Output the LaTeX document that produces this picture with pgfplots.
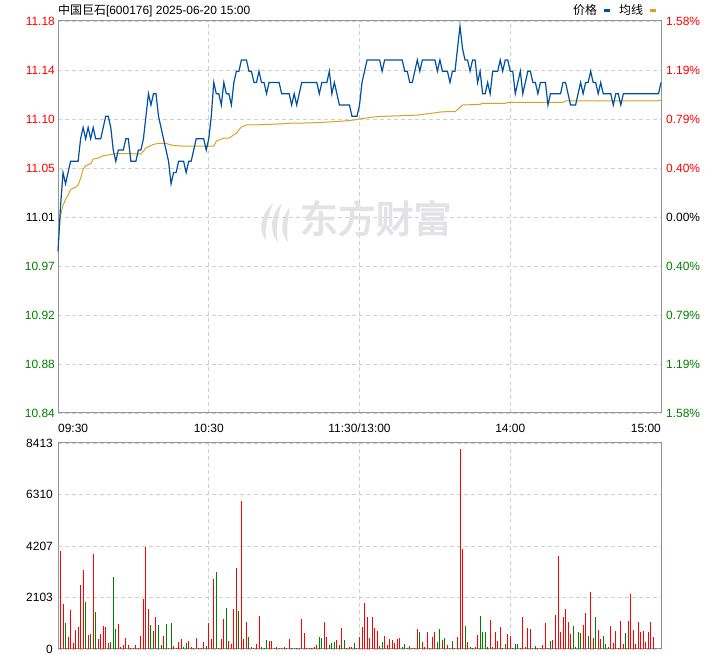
\documentclass[border=0pt]{standalone}
\usepackage{fontspec}
\setmainfont{Liberation Sans}
\newfontfamily\cjk{Noto Sans CJK SC}
\newfontfamily\cjkb[FakeBold=3]{Noto Sans CJK SC}
\usepackage{pgfplots}
\pgfplotsset{compat=1.18}
\definecolor{pblue}{RGB}{0,80,160}
\definecolor{porange}{RGB}{218,162,32}
\definecolor{ured}{RGB}{255,0,0}
\definecolor{dgreen}{RGB}{0,128,0}
\definecolor{gridc}{RGB}{208,208,208}
\definecolor{borderc}{RGB}{150,150,150}
\definecolor{wm}{RGB}{226,226,231}
\newcommand{\fs}{\fontsize{12}{14}\selectfont}
\begin{document}
\begin{tikzpicture}[x=1bp,y=1bp]
\useasboundingbox (0,0) rectangle (720,655);
% title and legend
\node[anchor=base west, inner sep=0pt] at (58,640) {\fs{\cjk 中国巨石}[600176] 2025-06-20 15:00};
\node[anchor=base west, inner sep=0pt] at (573,640) {\fs\cjk 价格};
\fill[pblue] (604,643) rectangle (610,646);
\node[anchor=base west, inner sep=0pt] at (619,640) {\fs\cjk 均线};
\fill[porange] (650,643) rectangle (656,646);
% watermark logo
\begin{scope}[xshift=-10bp]
\fill[wm] (283,452) .. controls (270,440) and (268,425) .. (276,414) .. controls (274,426) and (278,438) .. (283,452) -- cycle;
\fill[wm] (292,452) .. controls (280,440) and (279,424) .. (288,412) .. controls (285,426) and (288,440) .. (292,452) -- cycle;
\fill[wm] (300,448) .. controls (290,436) and (290,422) .. (298,413) .. controls (296,424) and (298,437) .. (300,448) -- cycle;
\end{scope}
% price panel
\begin{axis}[at={(58bp,242bp)}, anchor=south west, scale only axis,
  width=603bp, height=392bp,
  xmin=0, xmax=240, ymin=10.8366, ymax=11.1846,
  axis line style={borderc, line width=1bp},
  xtick={60,120,180}, xticklabels={},
  ytick={10.8366,10.8801,10.9236,10.9671,11.0106,11.0541,11.0976,11.1411,11.1846},
  yticklabels={\textcolor{dgreen}{10.84},\textcolor{dgreen}{10.88},\textcolor{dgreen}{10.92},\textcolor{dgreen}{10.97},11.01,\textcolor{ured}{11.05},\textcolor{ured}{11.10},\textcolor{ured}{11.14},\textcolor{ured}{11.18}},
  yticklabel style={font=\fs, inner sep=0pt, xshift=-3bp},
  grid=major, grid style={gridc, dash pattern=on 4bp off 3bp, line width=0.8bp},
  tick style={draw=none}, clip=false]
\node[text=wm, font=\cjkb\fontsize{38}{40}\selectfont, inner sep=0pt] at (axis cs:126.5,11.0095) {东方财富};
\addplot[porange, line width=1bp, mark=none] coordinates {
(0,10.989)(1,11.012)(2,11.021)(3,11.026)(4,11.030)(5,11.035)(7,11.037)(8,11.039)(9,11.045)(10,11.053)(11,11.056)(13,11.058)(14,11.062)(16,11.063)(18,11.065)(21,11.066)(23,11.067)(33,11.0666)(34,11.069)(35,11.072)(37,11.074)(38,11.075)(40,11.076)(43,11.076)(44,11.0752)(46,11.074)(50,11.0735)(62,11.0735)(63,11.078)(64,11.079)(66,11.0805)(68,11.0805)(69,11.082)(70,11.0835)(71,11.085)(72,11.088)(73,11.0905)(75,11.0923)(80,11.0925)(88,11.0932)(92,11.0938)(100,11.0941)(106,11.0947)(112,11.0955)(118,11.0967)(121,11.098)(123,11.0985)(126,11.0995)(130,11.1)(134,11.1003)(140,11.1008)(143,11.101)(148,11.1025)(153,11.104)(158,11.1041)(159,11.106)(160,11.108)(161,11.110)(168,11.1106)(169,11.1115)(178,11.1115)(179,11.1124)(201,11.1124)(202,11.1136)(238,11.1136)(240,11.1142)};
\addplot[pblue, line width=1.2bp, mark=none] coordinates {
(0,10.98)(1,11.02)(2,11.05)(3,11.04)(4,11.05)(5,11.06)(6,11.06)(7,11.06)(8,11.06)(9,11.08)(10,11.09)(11,11.08)(12,11.09)(13,11.08)(14,11.09)(15,11.08)(16,11.08)(17,11.08)(18,11.09)(19,11.10)(20,11.10)(21,11.09)(22,11.07)(23,11.06)(24,11.07)(25,11.07)(26,11.07)(27,11.08)(28,11.08)(29,11.06)(30,11.06)(31,11.06)(32,11.07)(33,11.07)(34,11.08)(35,11.10)(36,11.12)(37,11.11)(38,11.12)(39,11.12)(40,11.10)(41,11.09)(42,11.08)(43,11.07)(44,11.06)(45,11.04)(46,11.05)(47,11.05)(48,11.06)(49,11.06)(50,11.06)(51,11.05)(52,11.06)(53,11.06)(54,11.07)(55,11.08)(56,11.08)(57,11.08)(58,11.08)(59,11.07)(60,11.08)(61,11.10)(62,11.13)(63,11.12)(64,11.12)(65,11.11)(66,11.13)(67,11.12)(68,11.12)(69,11.11)(70,11.13)(71,11.14)(72,11.14)(73,11.15)(74,11.15)(75,11.15)(76,11.14)(77,11.14)(78,11.13)(79,11.13)(80,11.14)(81,11.13)(82,11.13)(83,11.12)(84,11.13)(85,11.13)(86,11.13)(87,11.13)(88,11.13)(89,11.12)(90,11.12)(91,11.12)(92,11.12)(93,11.11)(94,11.12)(95,11.11)(96,11.12)(97,11.13)(98,11.13)(99,11.13)(100,11.13)(101,11.13)(102,11.13)(103,11.13)(104,11.12)(105,11.13)(106,11.13)(107,11.13)(108,11.14)(109,11.12)(110,11.13)(111,11.12)(112,11.11)(113,11.11)(114,11.11)(115,11.11)(116,11.11)(117,11.10)(118,11.10)(119,11.10)(120,11.11)(121,11.13)(122,11.14)(123,11.15)(124,11.15)(125,11.15)(126,11.15)(127,11.15)(128,11.15)(129,11.14)(130,11.15)(131,11.15)(132,11.15)(133,11.15)(134,11.15)(135,11.15)(136,11.15)(137,11.15)(138,11.14)(139,11.14)(140,11.13)(141,11.13)(142,11.14)(143,11.15)(144,11.14)(145,11.15)(146,11.15)(147,11.15)(148,11.15)(149,11.15)(150,11.15)(151,11.14)(152,11.15)(153,11.14)(154,11.14)(155,11.14)(156,11.13)(157,11.14)(158,11.14)(159,11.16)(160,11.18)(161,11.16)(162,11.15)(163,11.15)(164,11.14)(165,11.15)(166,11.15)(167,11.13)(168,11.14)(169,11.12)(170,11.12)(171,11.13)(172,11.12)(173,11.14)(174,11.14)(175,11.14)(176,11.15)(177,11.14)(178,11.15)(179,11.15)(180,11.14)(181,11.14)(182,11.12)(183,11.13)(184,11.14)(185,11.12)(186,11.13)(187,11.14)(188,11.14)(189,11.13)(190,11.13)(191,11.12)(192,11.13)(193,11.13)(194,11.13)(195,11.11)(196,11.12)(197,11.12)(198,11.12)(199,11.12)(200,11.12)(201,11.13)(202,11.13)(203,11.12)(204,11.11)(205,11.11)(206,11.11)(207,11.12)(208,11.13)(209,11.12)(210,11.13)(211,11.13)(212,11.14)(213,11.13)(214,11.13)(215,11.12)(216,11.13)(217,11.12)(218,11.12)(219,11.12)(220,11.12)(221,11.11)(222,11.12)(223,11.12)(224,11.11)(225,11.12)(226,11.12)(227,11.12)(228,11.12)(229,11.12)(230,11.12)(231,11.12)(232,11.12)(233,11.12)(234,11.12)(235,11.12)(236,11.12)(237,11.12)(238,11.12)(239,11.12)(240,11.13)};
% right-hand percentage labels
\foreach \yy/\lab/\col in {11.1846/1.58\%/ured, 11.1411/1.19\%/ured, 11.0976/0.79\%/ured, 11.0541/0.40\%/ured, 11.0106/0.00\%/black, 10.9671/0.40\%/dgreen, 10.9236/0.79\%/dgreen, 10.8801/1.19\%/dgreen, 10.8366/1.58\%/dgreen}{
  \edef\tmp{\noexpand\node[anchor=west, inner sep=0pt, text=\col, font=\noexpand\fs] at (axis cs:240,\yy) [xshift=5bp] {\lab};}\tmp
}
\end{axis}
% time labels
\node[anchor=west, inner sep=0pt, font=\fs] at (58,227) {09:30};
\node[inner sep=0pt, font=\fs] at (208.75,227) {10:30};
\node[inner sep=0pt, font=\fs] at (359.5,227) {11:30/13:00};
\node[inner sep=0pt, font=\fs] at (510.25,227) {14:00};
\node[anchor=east, inner sep=0pt, font=\fs] at (661,227) {15:00};
% volume panel
\begin{axis}[at={(58bp,6bp)}, anchor=south west, scale only axis,
  width=603bp, height=206bp,
  xmin=0, xmax=240, ymin=0, ymax=8413,
  axis line style={borderc, line width=1bp},
  xtick={60,120,180}, xticklabels={},
  ytick={0,2103,4207,6310,8413},
  yticklabels={0,2103,4207,6310,8413},
  yticklabel style={font=\fs, inner sep=0pt, xshift=-5bp},
  grid=major, grid style={gridc, dash pattern=on 4bp off 3bp, line width=0.8bp},
  tick style={draw=none}]
\addplot[ycomb, ured, line width=1bp, mark=none] coordinates {
(1,4009)(2,1841)(4,491)(5,1595)(6,260)(7,777)(8,900)(9,2618)(10,3232)(12,586)(14,3872)(16,410)(17,614)(18,940)(19,900)(20,260)(24,1023)(25,82)(26,150)(27,450)(28,177)(29,40)(30,40)(31,150)(32,55)(33,532)(34,2045)(35,4172)(36,1636)(39,1309)(42,532)(44,40)(46,136)(47,40)(48,300)(49,410)(52,327)(53,95)(54,40)(55,450)(56,40)(57,40)(58,300)(60,1064)(61,423)(62,2863)(65,410)(66,1227)(68,327)(69,218)(70,1636)(71,3313)(73,6054)(74,410)(75,1104)(77,82)(79,205)(80,1350)(84,327)(85,327)(86,40)(87,82)(88,40)(89,40)(91,40)(92,410)(97,1227)(98,654)(99,40)(100,40)(101,40)(102,68)(103,164)(106,1104)(107,491)(111,368)(113,859)(115,40)(116,82)(117,82)(119,40)(120,491)(121,900)(122,1882)(123,1309)(124,450)(125,1309)(126,859)(127,736)(128,123)(130,532)(131,164)(132,410)(133,368)(134,245)(135,410)(136,450)(139,40)(140,123)(143,818)(145,286)(146,82)(147,695)(148,40)(149,491)(150,695)(153,368)(155,164)(156,40)(158,40)(159,491)(160,8181)(161,4091)(163,286)(166,82)(167,573)(171,82)(172,1186)(174,695)(175,327)(176,900)(177,40)(179,614)(180,532)(181,40)(184,40)(185,1309)(187,859)(188,818)(189,40)(191,40)(192,40)(193,164)(194,1064)(195,40)(197,368)(198,1391)(199,3804)(200,695)(201,1309)(202,1636)(203,1104)(204,614)(209,982)(210,1473)(212,2332)(213,450)(215,777)(216,410)(220,940)(221,245)(222,736)(223,40)(224,1145)(225,205)(227,1145)(228,2250)(229,777)(230,205)(231,1104)(232,695)(233,736)(234,286)(235,695)(236,1104)(237,491)(240,4377)};
\addplot[ycomb, dgreen, line width=1bp, mark=none] coordinates {
(3,1064)(11,1923)(13,614)(15,1513)(21,272)(22,2945)(23,818)(37,982)(38,723)(40,982)(41,177)(43,1023)(45,1064)(50,68)(51,232)(59,123)(63,3150)(64,40)(67,1677)(72,1554)(76,491)(78,40)(81,82)(82,40)(83,368)(90,82)(93,40)(94,40)(95,40)(96,40)(104,491)(105,450)(108,177)(109,260)(110,286)(112,177)(114,368)(118,245)(129,286)(137,82)(138,205)(141,40)(142,40)(144,695)(151,286)(152,818)(154,450)(157,327)(162,940)(164,82)(165,40)(168,1350)(169,695)(170,695)(173,82)(178,205)(182,205)(183,205)(186,82)(190,123)(196,327)(205,940)(206,82)(207,695)(208,654)(211,532)(214,1309)(217,532)(218,205)(219,82)(226,654)};
\end{axis}
\end{tikzpicture}
\end{document}
